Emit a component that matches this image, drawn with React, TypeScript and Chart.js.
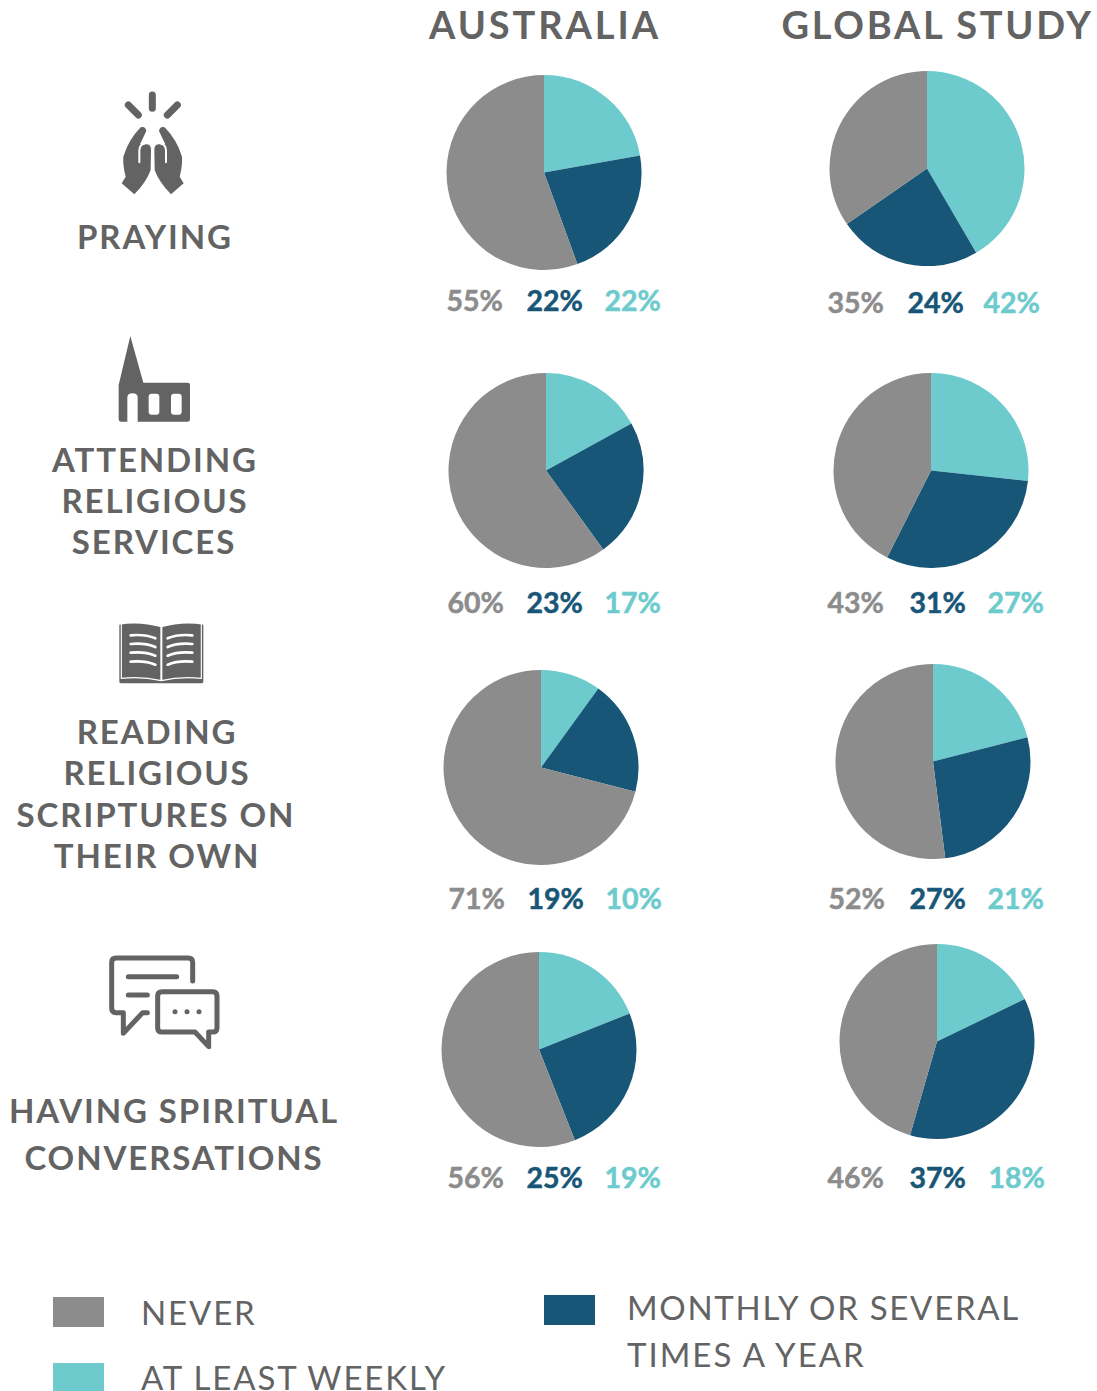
import React, { useEffect, useRef } from "react";
import { Chart, registerables } from "chart.js";

Chart.register(...registerables);

// Survey shares, ordered clockwise from twelve o'clock: weekly, monthly, never
const australiaPraying = [22, 22, 55];
const australiaServices = [17, 23, 60];
const australiaScriptures = [10, 19, 71];
const australiaConversations = [19, 25, 56];
const globalPraying = [42, 24, 35];
const globalServices = [27, 31, 43];
const globalScriptures = [21, 27, 52];
const globalConversations = [18, 37, 46];

const frequencies = ["AT LEAST WEEKLY", "MONTHLY OR SEVERAL TIMES A YEAR", "NEVER"];
const regions = ["AUSTRALIA", "GLOBAL STUDY"];

const GREY = "#8c8c8c";
const NAVY = "#185677";
const TEAL = "#6dcbcd";
const INK = "#636363";
const PIE_WIDTH = 196;
const PIE_HEIGHT = 195;
const FONT = "Lato, sans-serif";

const sliceColors = [TEAL, NAVY, GREY];

type PieSpec = {
  values: number[];
  left: number;
  top: number;
  labelY: number;
  labelX: [number, number, number]; // never, monthly, weekly
};

const pies: PieSpec[] = [
  { values: australiaPraying, left: 446, top: 75, labelY: 300, labelX: [446.5, 526.5, 604.5] },
  { values: globalPraying, left: 829, top: 71, labelY: 302, labelX: [827.5, 907.5, 983.5] },
  { values: australiaServices, left: 448, top: 373, labelY: 602, labelX: [447.5, 526.5, 604.5] },
  { values: globalServices, left: 833, top: 373, labelY: 602, labelX: [827.5, 909.5, 987.5] },
  { values: australiaScriptures, left: 443, top: 670, labelY: 898, labelX: [448.5, 527.5, 605.5] },
  { values: globalScriptures, left: 835, top: 664, labelY: 898, labelX: [828.5, 909.5, 987.5] },
  { values: australiaConversations, left: 441, top: 952, labelY: 1177, labelX: [447.5, 526.5, 604.5] },
  { values: globalConversations, left: 839, top: 944, labelY: 1177, labelX: [827.5, 909.5, 988.5] },
];

const rowLabels: { text: string; x: number; y: number }[] = [
  { text: "PRAYING", x: 155, y: 236 },
  { text: "ATTENDING", x: 155, y: 459 },
  { text: "RELIGIOUS", x: 155, y: 500 },
  { text: "SERVICES", x: 154, y: 541 },
  { text: "READING", x: 157, y: 731 },
  { text: "RELIGIOUS", x: 157, y: 772 },
  { text: "SCRIPTURES ON", x: 156, y: 814 },
  { text: "THEIR OWN", x: 157, y: 855 },
  { text: "HAVING SPIRITUAL", x: 174, y: 1110 },
  { text: "CONVERSATIONS", x: 174, y: 1157 },
];

function Pie({ spec }: { spec: PieSpec }) {
  const ref = useRef<HTMLCanvasElement>(null);
  useEffect(() => {
    const chart = new Chart(ref.current!, {
      type: "pie",
      data: {
        labels: frequencies,
        datasets: [{ data: spec.values, backgroundColor: sliceColors, borderWidth: 0 }],
      },
      options: {
        animation: false,
        responsive: false,
        layout: { padding: 0 },
        plugins: { legend: { display: false }, tooltip: { enabled: false } },
      },
    });
    return () => chart.destroy();
  }, [spec]);
  return (
    <canvas
      ref={ref}
      width={PIE_WIDTH}
      height={PIE_HEIGHT}
      style={{ position: "absolute", left: spec.left, top: spec.top }}
    />
  );
}

function Centered({ x, y, size, spacing, children }: any) {
  return (
    <div
      style={{
        position: "absolute",
        left: x,
        top: y,
        transform: "translate(-50%,-50%)",
        font: `700 ${size}px/1 ${FONT}`,
        letterSpacing: spacing,
        color: INK,
        whiteSpace: "nowrap",
      }}
    >
      {children}
    </div>
  );
}

function PercentLabels({ spec }: { spec: PieSpec }) {
  const [weekly, monthly, never] = spec.values;
  const items: [number, string][] = [
    [never, GREY],
    [monthly, NAVY],
    [weekly, TEAL],
  ];
  return (
    <>
      {items.map(([v, color], i) => (
        <div
          key={i}
          style={{
            position: "absolute",
            left: spec.labelX[i],
            top: spec.labelY,
            transform: "translateY(-50%)",
            font: `700 28.5px/1 ${FONT}`,
            WebkitTextStroke: `0.5px ${color}`,
            color,
            whiteSpace: "nowrap",
          }}
        >
          {v}%
        </div>
      ))}
    </>
  );
}

function LegendText({ x, y, spacing = 1.85, children }: any) {
  return (
    <div
      style={{
        position: "absolute",
        left: x,
        top: y,
        transform: "translateY(-50%)",
        font: `400 33px/26px ${FONT}`,
        letterSpacing: spacing,
        color: INK,
        whiteSpace: "nowrap",
      }}
    >
      {children}
    </div>
  );
}

function Swatch({ x, y, h = 30, color }: { x: number; y: number; h?: number; color: string }) {
  return <div style={{ position: "absolute", left: x, top: y, width: 51, height: h, background: color }} />;
}

const svgBox = (x: number, y: number, w: number, h: number): React.CSSProperties => ({
  position: "absolute",
  left: x,
  top: y,
  width: w,
  height: h,
});

function PrayingIcon() {
  const hand =
    "M122 127 Q136 122 139 138 L120 178 L135 178 Q153 176 153 194 L152 255 Q140 290 103 328 L65 295 L77 275 Q68 240 70 215 Q85 165 122 127 Z";
  const gap = "M133 176 Q119 178 118 196 L118 232";
  return (
    <svg viewBox="0 0 330 360" style={svgBox(100, 85, 110, 120)}>
      <g stroke={INK} strokeWidth="21" strokeLinecap="round">
        <line x1="157" y1="30" x2="157" y2="70" />
        <line x1="85" y1="60" x2="115" y2="90" />
        <line x1="232" y1="60" x2="202" y2="90" />
      </g>
      <path d={hand} fill={INK} />
      <path d={gap} fill="none" stroke="#fff" strokeWidth="6" strokeLinecap="round" />
      <g transform="translate(316,0) scale(-1,1)">
        <path d={hand} fill={INK} />
        <path d={gap} fill="none" stroke="#fff" strokeWidth="6" strokeLinecap="round" />
      </g>
    </svg>
  );
}

function ChurchIcon() {
  return (
    <svg viewBox="0 0 900 1080" style={svgBox(0, 80, 300, 360)}>
      <path
        d="M391 768 L356 915 L356 1018 Q356 1025 362 1025 L382 1025 L382 952 Q382 940 397 940 Q413 940 413 952 L413 1025 L562 1025 Q570 1025 570 1018 L570 915 Q570 908 562 908 L430 908 Z"
        fill={INK}
      />
      <rect x="446" y="941" width="32" height="63" rx="9" fill="#fff" />
      <rect x="513" y="941" width="32" height="63" rx="9" fill="#fff" />
    </svg>
  );
}

function BookIcon() {
  const rows = [76, 102, 128, 155];
  return (
    <svg viewBox="0 0 420 270" style={svgBox(90, 610, 140, 90)}>
      <path d="M88 44 Q150 34 214 52 Q276 34 340 44 L340 215 Q340 220 334 220 L94 220 Q88 220 88 215 Z" fill={INK} />
      <path d="M94 40 L94 205 Q155 198 214 212 Q272 198 334 205 L334 40" fill="none" stroke="#fff" strokeWidth="3.5" />
      <line x1="214" y1="48" x2="214" y2="212" stroke="#fff" strokeWidth="6" />
      <g fill="none" stroke="#fff" strokeWidth="8" strokeLinecap="round">
        {rows.map((y) => (
          <React.Fragment key={y}>
            <path d={`M122 ${y} Q165 ${y - 4} 196 ${y + 9}`} />
            <path d={`M307 ${y} Q263 ${y - 4} 233 ${y + 9}`} />
          </React.Fragment>
        ))}
      </g>
    </svg>
  );
}

function ChatIcon() {
  return (
    <svg viewBox="0 0 450 360" style={svgBox(90, 940, 150, 120)}>
      <g fill="none" stroke={INK} strokeWidth="15" strokeLinecap="round" strokeLinejoin="round">
        <path d="M308 123 L308 67 Q308 54 295 54 L78 54 Q65 54 65 67 L65 205 Q65 218 78 218 L100 218 L100 280 L158 218 L172 218" />
        <path d="M115 110 L260 110 M115 165 L172 165" />
        <path d="M216 155 L368 155 Q381 155 381 168 L381 263 Q381 276 368 276 L356 276 L356 320 L315 276 L216 276 Q203 276 203 263 L203 168 Q203 155 216 155 Z" />
      </g>
      <g fill={INK}>
        <circle cx="255" cy="215" r="7.5" />
        <circle cx="291" cy="215" r="7.5" />
        <circle cx="327" cy="215" r="7.5" />
      </g>
    </svg>
  );
}

export default function App() {
  return (
    <div style={{ position: "absolute", left: 0, top: 0, width: 1097, height: 1391, background: "#fff", overflow: "hidden" }}>
      <Centered x={545} y={24} size={38} spacing={2.9}>{regions[0]}</Centered>
      <Centered x={937.5} y={24} size={38} spacing={2.7}>{regions[1]}</Centered>

      <PrayingIcon />
      <ChurchIcon />
      <BookIcon />
      <ChatIcon />

      {rowLabels.map((l, i) => (
        <Centered key={i} x={l.x} y={l.y} size={33} spacing={1.9}>{l.text}</Centered>
      ))}

      {pies.map((p, i) => (
        <React.Fragment key={i}>
          <Pie spec={p} />
          <PercentLabels spec={p} />
        </React.Fragment>
      ))}

      <Swatch x={53} y={1297} color={GREY} />
      <LegendText x={141} y={1312}>NEVER</LegendText>
      <Swatch x={53} y={1363} h={28} color={TEAL} />
      <LegendText x={141} y={1377}>AT LEAST WEEKLY</LegendText>
      <Swatch x={544} y={1295} color={NAVY} />
      <LegendText x={627} y={1307} spacing={1.7}>MONTHLY OR SEVERAL</LegendText>
      <LegendText x={627} y={1354} spacing={2}>TIMES A YEAR</LegendText>
    </div>
  );
}
